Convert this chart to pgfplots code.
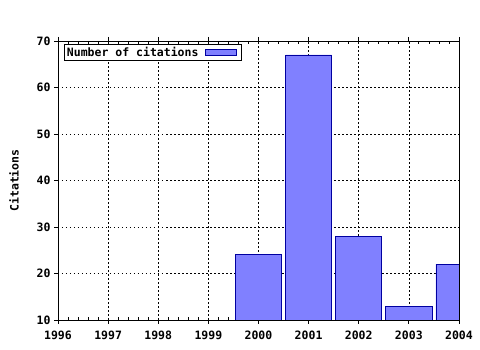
\documentclass[border=0pt]{standalone}
\usepackage{pgfplots}
\pgfplotsset{compat=1.18}
\usepackage{fontspec}
\setmainfont{DejaVu Sans Mono}
\definecolor{barfill}{RGB}{128,128,255}
\definecolor{baredge}{RGB}{0,0,160}
\begin{document}
\begin{tikzpicture}[x=1pt,y=1pt]
\useasboundingbox (0,0) rectangle (480,350);
\begin{axis}[
  at={(58pt,30pt)}, anchor=south west,
  scale only axis, width=401pt, height=279pt,
  xmin=1996, xmax=2004, ymin=10, ymax=70,
  xtick={1996,1997,...,2004}, ytick={10,20,...,70},
  extra x ticks={1996.2,1996.4,1996.6,1996.8,1997.2,1997.4,1997.6,1997.8,
    1998.2,1998.4,1998.6,1998.8,1999.2,1999.4,1999.6,1999.8,
    2000.2,2000.4,2000.6,2000.8,2001.2,2001.4,2001.6,2001.8,
    2002.2,2002.4,2002.6,2002.8,2003.2,2003.4,2003.6,2003.8},
  extra x tick labels={},
  extra x tick style={grid=none, tick align=inside, major tick length=3pt},
  xtick pos=both, ytick pos=left, xticklabel pos=lower,
  tick align=outside, major tick length=4pt,
  x tick label style={/pgf/number format/1000 sep={}},
  /pgf/number format/assume math mode=true,
  tick label style={font=\fontsize{11.5}{12}\selectfont\bfseries, black},
  xticklabel style={anchor=north, text height=8.5pt, text depth=0pt, yshift=-3pt},
  ylabel={Citations},
  ylabel style={at={(axis description cs:-0.1097,0.5)}, anchor=center, font=\fontsize{11.5}{12}\selectfont\bfseries},
  grid=major,
  major grid style={black, line width=0.6pt, dash pattern=on 1.5pt off 2.5pt},
  axis line style={black, line width=0.9pt},
  every tick/.style={black, line width=0.8pt},
  ybar, bar width=0.92,
  legend style={at={(0.015,0.989)}, anchor=north west, draw=black, line width=0.9pt,
    inner sep=0.5pt, font=\fontsize{11.5}{12}\selectfont\bfseries, row sep=0pt},
  legend plot pos=right,
  legend cell align=left,
]
\addplot[fill=barfill, draw=baredge, line width=0.8pt,
  legend image code/.code={\path (0pt,0pt); \draw[fill=barfill, draw=baredge, line width=0.8pt] (4pt,-3pt) rectangle (35pt,3pt); \path (40pt,0pt);}]
  coordinates {(2000,24) (2001,67) (2002,28) (2003,13) (2004,22)};
\addlegendentry{Number of citations}
\end{axis}
\end{tikzpicture}
\end{document}
